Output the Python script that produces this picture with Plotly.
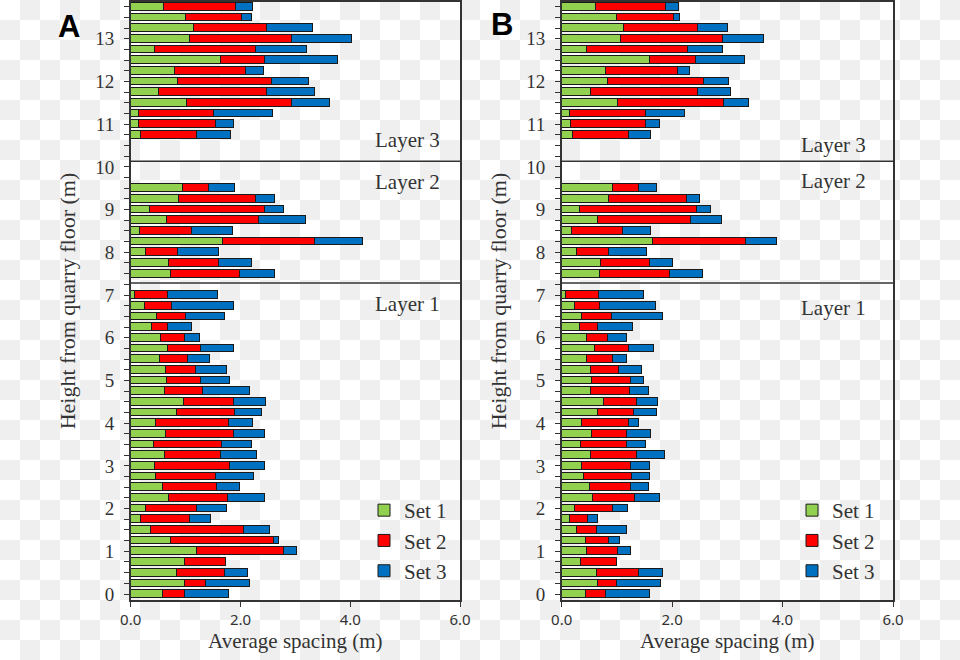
import base64
import plotly.graph_objects as go

# ---------------- data ----------------
heights = [0.0, 0.25, 0.5, 0.75, 1.0, 1.25, 1.5, 1.75, 2.0, 2.25, 2.5, 2.75, 3.0, 3.25,
           3.5, 3.75, 4.0, 4.25, 4.5, 4.75, 5.0, 5.25, 5.5, 5.75, 6.0, 6.25, 6.5, 6.75, 7.0,
           7.5, 7.75, 8.0, 8.25, 8.5, 8.75, 9.0, 9.25, 9.5,
           10.75, 11.0, 11.25, 11.5, 11.75, 12.0, 12.25, 12.5, 12.75, 13.0, 13.25, 13.5, 13.75]

a_set1 = [0.58, 0.98, 0.84, 0.98, 1.20, 0.72, 0.36, 0.18, 0.27, 0.70, 0.58, 0.45, 0.43, 0.62,
          0.41, 0.64, 0.45, 0.84, 0.96, 0.62, 0.65, 0.64, 0.53, 0.68, 0.55, 0.39, 0.48, 0.25, 0.08,
          0.73, 0.70, 0.27, 1.67, 0.17, 0.65, 0.34, 0.87, 0.94,
          0.19, 0.15, 0.14, 1.02, 0.51, 0.85, 0.80, 1.64, 0.44, 1.07, 1.15, 1.01, 0.61]
a_set2 = [0.41, 0.39, 0.87, 0.75, 1.58, 1.88, 1.69, 0.90, 0.93, 1.06, 0.98, 1.10, 1.37, 1.02,
          1.25, 1.24, 1.33, 1.06, 0.91, 0.70, 0.63, 0.54, 0.50, 0.59, 0.44, 0.28, 0.53, 0.49, 0.60,
          1.26, 0.91, 0.58, 1.69, 0.94, 1.69, 2.10, 1.40, 0.48,
          1.02, 1.39, 1.37, 1.91, 1.96, 1.72, 1.30, 0.81, 1.84, 1.86, 1.32, 1.02, 1.30]
a_set3 = [0.79, 0.79, 0.42, 0.00, 0.24, 0.10, 0.48, 0.37, 0.54, 0.68, 0.42, 0.69, 0.64, 0.65,
          0.55, 0.56, 0.44, 0.49, 0.59, 0.85, 0.53, 0.57, 0.41, 0.60, 0.26, 0.45, 0.71, 1.13, 0.91,
          0.64, 0.60, 0.76, 0.86, 0.75, 0.84, 0.35, 0.36, 0.47,
          0.61, 0.34, 1.07, 0.70, 0.89, 0.68, 0.32, 1.33, 0.93, 1.09, 0.84, 0.18, 0.31]

b_set1 = [0.44, 0.66, 0.64, 0.34, 0.46, 0.43, 0.28, 0.15, 0.23, 0.57, 0.50, 0.40, 0.37, 0.52,
          0.35, 0.54, 0.37, 0.66, 0.76, 0.52, 0.55, 0.52, 0.46, 0.59, 0.46, 0.32, 0.37, 0.23, 0.07,
          0.69, 0.70, 0.28, 1.64, 0.18, 0.65, 0.33, 0.86, 0.92,
          0.20, 0.16, 0.14, 1.01, 0.52, 0.84, 0.79, 1.60, 0.45, 1.06, 1.13, 1.00, 0.62]
b_set2 = [0.35, 0.33, 0.76, 0.65, 0.55, 0.43, 0.35, 0.32, 0.70, 0.75, 0.75, 0.86, 0.88, 0.84,
          0.83, 0.64, 0.85, 0.64, 0.60, 0.71, 0.70, 0.51, 0.46, 0.63, 0.38, 0.33, 0.53, 0.46, 0.60,
          1.27, 0.90, 0.58, 1.69, 0.93, 1.68, 2.12, 1.41, 0.48,
          1.02, 1.37, 1.38, 1.92, 1.95, 1.73, 1.31, 0.83, 1.83, 1.86, 1.33, 1.02, 1.27]
b_set3 = [0.81, 0.81, 0.43, 0.00, 0.24, 0.19, 0.54, 0.19, 0.27, 0.46, 0.32, 0.34, 0.35, 0.50,
          0.34, 0.44, 0.18, 0.42, 0.38, 0.34, 0.23, 0.41, 0.25, 0.44, 0.33, 0.63, 0.93, 1.01, 0.82,
          0.59, 0.41, 0.68, 0.56, 0.51, 0.56, 0.24, 0.23, 0.32,
          0.40, 0.25, 0.71, 0.45, 0.59, 0.45, 0.22, 0.89, 0.63, 0.74, 0.55, 0.11, 0.22]

set_names = ["Set 1", "Set 2", "Set 3"]
set_colors = ["#92D050", "#FF0000", "#0070C0"]
y_ticks = list(range(0, 14))
x_ticks = [0, 2, 4, 6]
layer_names = ["Layer 1", "Layer 2", "Layer 3"]
layer_bounds = [7.28, 10.13]

# ---------------- figure ----------------
W, H = 960, 660
SERIF = "Liberation Serif"

fig = go.Figure()
panels = [("x", "y", "legend", [a_set1, a_set2, a_set3]),
          ("x2", "y2", "legend2", [b_set1, b_set2, b_set3])]
for xa, ya, lg, sets in panels:
    for name, col, vals in zip(set_names, set_colors, sets):
        fig.add_trace(go.Bar(
            y=heights, x=vals, orientation="h", name=name, width=0.18,
            marker=dict(color=col, line=dict(color="#1a1a1a", width=1)),
            xaxis=xa, yaxis=ya, legend=lg, legendgroup=lg + name,
        ))

# checkerboard backdrop (the reference is a transparent image shown on a checker grid)
svg = ('<svg xmlns="http://www.w3.org/2000/svg" width="%d" height="%d">'
       '<defs><pattern id="p" width="40" height="40" patternUnits="userSpaceOnUse">'
       '<rect width="40" height="40" fill="#ffffff"/>'
       '<rect x="20" y="0" width="20" height="20" fill="#efefef"/>'
       '<rect x="0" y="20" width="20" height="20" fill="#efefef"/>'
       '</pattern></defs><rect width="100%%" height="100%%" fill="url(#p)"/></svg>') % (W, H)
bg_uri = "data:image/svg+xml;base64," + base64.b64encode(svg.encode()).decode()

def px(v):
    return v / W

def py(v):
    return 1 - v / H

ydom = [py(600), py(2)]
yrange = [-0.14, 13.86]

axis_common = dict(showline=True, linecolor="#333333", linewidth=1.5, mirror=True,
                   showgrid=False, zeroline=False, automargin=False)

xaxis_kw = dict(range=[0, 6], tickvals=x_ticks, tickformat=".1f", ticks="outside",
                ticklen=5, tickcolor="#333333", tickwidth=1.2,
                tickfont=dict(family="Noto Sans", size=15, color="#333333"),
                title=dict(text="Average spacing (m)", standoff=6,
                           font=dict(family=SERIF, size=21, color="#333333")),
                **axis_common)
yaxis_kw = dict(range=yrange, domain=ydom, tickvals=y_ticks, ticks="outside",
                ticklen=5, tickcolor="#333333", tickwidth=1.2,
                minor=dict(dtick=0.25, tick0=0, ticks="outside", ticklen=5,
                           tickcolor="#333333", tickwidth=1.2),
                tickfont=dict(family=SERIF, size=19, color="#333333"),
                ticklabelstandoff=6,
                title=dict(text="Height from quarry floor (m)", standoff=13,
                           font=dict(family=SERIF, size=22, color="#333333")),
                **axis_common)

fig.update_layout(
    width=W, height=H,
    margin=dict(l=0, r=0, t=0, b=0),
    paper_bgcolor="white", plot_bgcolor="rgba(0,0,0,0)",
    barmode="stack", bargap=0,
    xaxis=dict(domain=[px(130.7), px(460)], anchor="y", **xaxis_kw),
    yaxis=dict(anchor="x", **yaxis_kw),
    xaxis2=dict(domain=[px(561.7), px(893)], anchor="y2", **xaxis_kw),
    yaxis2=dict(anchor="x2", **yaxis_kw),
    legend=dict(x=px(364), y=py(490), xanchor="left", yanchor="top",
                bgcolor="rgba(0,0,0,0)", tracegroupgap=0,
                font=dict(family=SERIF, size=21, color="#333333")),
    legend2=dict(x=px(792), y=py(490), xanchor="left", yanchor="top",
                 bgcolor="rgba(0,0,0,0)", tracegroupgap=0,
                 font=dict(family=SERIF, size=21, color="#333333")),
    images=[dict(source=bg_uri, xref="paper", yref="paper", x=0, y=1,
                 sizex=1, sizey=1, xanchor="left", yanchor="top",
                 sizing="stretch", layer="below")],
)

shapes = []
annotations = []
layer_label_pos = {"x": [(6.79, "Layer 1"), (9.65, "Layer 2"), (10.62, "Layer 3")],
                   "x2": [(6.69, "Layer 1"), (9.66, "Layer 2"), (10.52, "Layer 3")]}
for xa, ya in [("x", "y"), ("x2", "y2")]:
    for b in layer_bounds:
        shapes.append(dict(type="line", xref=xa + " domain", yref=ya, x0=0, x1=1,
                           y0=b, y1=b, line=dict(color="#333333", width=1.5)))
    for yv, txt in layer_label_pos[xa]:
        annotations.append(dict(xref=xa + " domain", yref=ya, x=0.945 if xa == "x" else 0.925,
                                y=yv, text=txt, showarrow=False, xanchor="right",
                                yanchor="middle",
                                font=dict(family=SERIF, size=21, color="#333333")))

annotations.append(dict(xref="paper", yref="paper", x=px(69), y=py(26), text="<b>A</b>",
                        showarrow=False, xanchor="center", yanchor="middle",
                        font=dict(family="Liberation Sans", size=31, color="black")))
annotations.append(dict(xref="paper", yref="paper", x=px(502), y=py(24), text="<b>B</b>",
                        showarrow=False, xanchor="center", yanchor="middle",
                        font=dict(family="Liberation Sans", size=31, color="black")))

fig.update_layout(shapes=shapes, annotations=annotations)

fig.write_html("out.html", config={"displayModeBar": False},
               post_script="document.body.style.margin='0px';document.body.style.padding='0px';")
